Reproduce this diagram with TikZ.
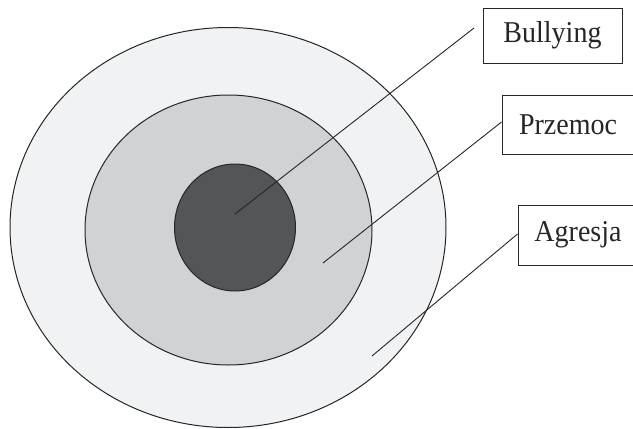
\documentclass[tikz,border=0pt]{standalone}
\usepackage{graphicx}
\usepackage{fontspec}
\setmainfont{Liberation Serif}
\definecolor{ringout}{HTML}{F1F2F4}
\definecolor{ringmid}{HTML}{D1D2D4}
\definecolor{ringin}{HTML}{545557}
\newcommand{\tallword}[1]{\scalebox{1}[1.08]{#1}}
\begin{document}
\begin{tikzpicture}[x=1pt,y=-1pt,
  ring/.style={draw=black!85,line width=1pt},
  labelbox/.style={draw=black!85,line width=1pt,rectangle,inner sep=0pt,
    font=\fontsize{28}{33}\selectfont,text=black!85},
  leader/.style={draw=black!85,line width=0.9pt}]
\useasboundingbox (0,0) rectangle (633,429);
\clip (0,0) rectangle (633,429);
\fill[white] (0,0) rectangle (633,429);
% rings
\draw[ring,fill=ringout] (228,227.5) ellipse [x radius=218,y radius=200];
\draw[ring,fill=ringmid] (228.5,230) ellipse [x radius=143.5,y radius=135];
\draw[ring,fill=ringin] (235,227.5) ellipse [x radius=60.5,y radius=63.5];
% label boxes
\node[labelbox,minimum width=139,minimum height=55] (bully) at (552.5,35.5) {\tallword{Bullying}};
\node[labelbox,minimum width=132,minimum height=59] (przem) at (568,124.5) {\tallword{Przemoc}};
\node[labelbox,minimum width=120,minimum height=60] (agres) at (578,235) {\tallword{Agresja}};
% leader lines
\coordinate (bullyIn) at (235,214);
\coordinate (bullyEnd) at (474,28);
\coordinate (przemIn) at (323,263);
\coordinate (agresIn) at (372,356);
\draw[leader] (bullyIn) -- (bullyEnd);
\draw[leader] (przemIn) -- (przem.west |- 0,122);
\draw[leader] (agresIn) -- (agres.west |- 0,234);
\end{tikzpicture}
\end{document}
